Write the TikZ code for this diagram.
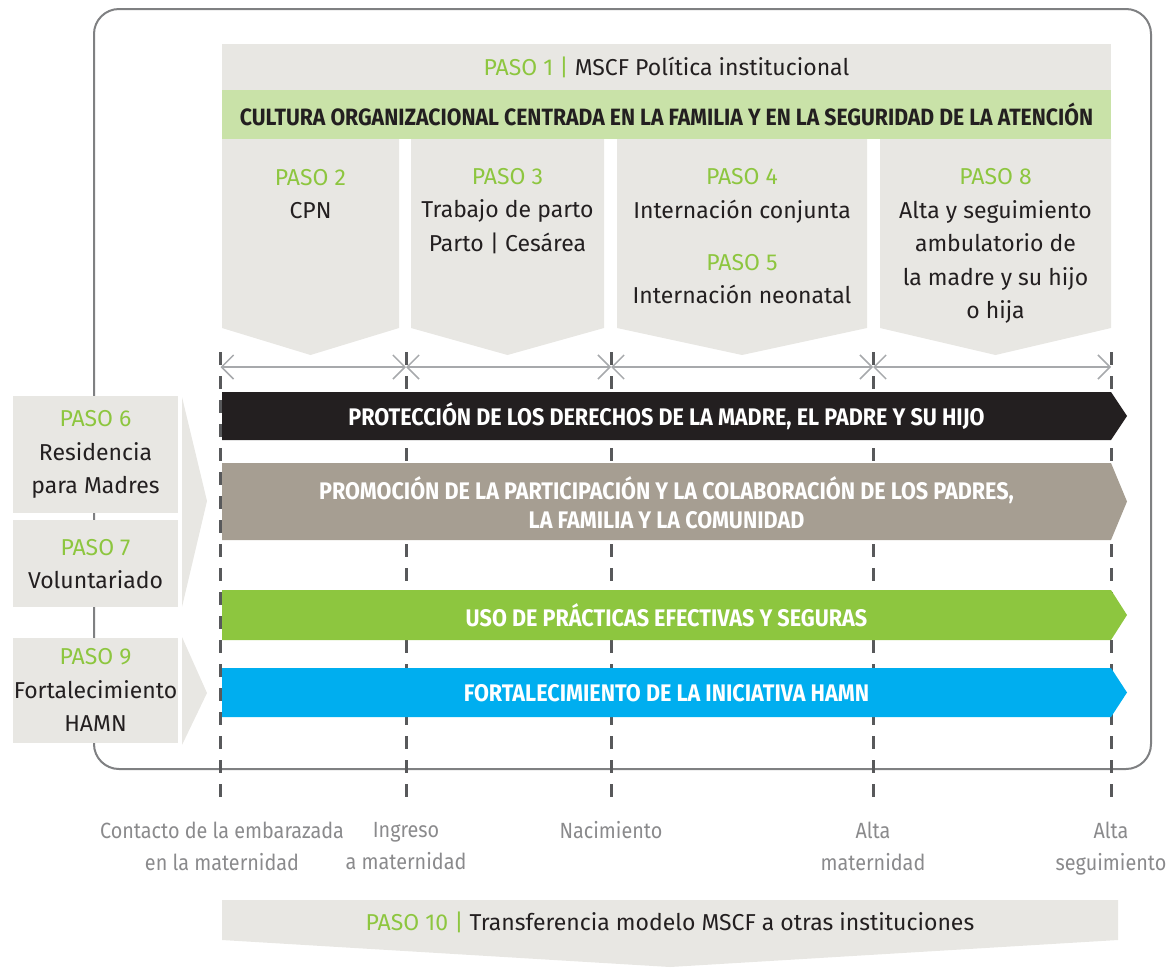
\documentclass[tikz,border=0pt]{standalone}
\usepackage{fontspec}
\setmainfont{Fira Sans}
\newfontfamily\narrowfont{Fira Sans}[FakeStretch=0.9]
\usetikzlibrary{arrows.meta,positioning}

\definecolor{pasogreen}{HTML}{8DC63F}
\definecolor{panel}{HTML}{E8E7E3}
\definecolor{culture}{HTML}{C9E2A8}
\definecolor{inkdark}{HTML}{231F20}
\definecolor{rights}{HTML}{231F20}
\definecolor{promo}{HTML}{A69E92}
\definecolor{practice}{HTML}{8DC63F}
\definecolor{hamn}{HTML}{00AEEF}
\definecolor{framegray}{HTML}{7F8082}
\definecolor{milestone}{HTML}{58595B}
\definecolor{spangray}{HTML}{A7A9AC}
\definecolor{caption}{HTML}{8A8A8C}

\newcommand{\paso}[1]{\textcolor{pasogreen}{PASO #1}}
\newcommand{\stepfont}{\fontsize{23}{33.5}\selectfont}

\begin{document}
\begin{tikzpicture}[%
	x=1pt,y=-1pt,>={Straight Barb[length=12pt,width=24pt]},
	every node/.style={inner sep=0pt,text=inkdark},
	headband/.style={fill=panel,minimum width=889pt,minimum height=46pt,font=\stepfont},
	cultureband/.style={fill=culture,minimum width=889pt,minimum height=49pt,
		font=\narrowfont\bfseries\fontsize{23.6}{27}\selectfont},
	steptext/.style={align=center,font=\stepfont},
	sidebox/.style={fill=panel,minimum width=165pt,align=center,font=\stepfont},
	bartext/.style={align=center,text=white,font=\narrowfont\bfseries\fontsize{24}{29}\selectfont},
	milestonetext/.style={align=center,text=caption,font=\narrowfont\fontsize{22}{32}\selectfont},
	frame line/.style={draw=framegray,line width=2pt,rounded corners=25pt},
	tick line/.style={draw=milestone,line width=3pt,dash pattern=on 13pt off 11pt},
	span line/.style={draw=spangray,line width=1.5pt,<->}]

	\useasboundingbox (0,0) rectangle (1175,967);

	% outer frame
	\draw[frame line] (94,9) rectangle (1151,769);

	% paso 1 and culture band
	\node[headband] (paso1) at (666.5,67)
		{\textcolor{pasogreen}{PASO 1 |} MSCF Política institucional};
	\node[cultureband,below=0pt of paso1] (cultura)
		{CULTURA ORGANIZACIONAL CENTRADA EN LA FAMILIA Y EN LA SEGURIDAD DE LA ATENCIÓN};

	% columns
	\fill[panel] (222,139) -- (399,139) -- (399,328) -- (310.5,355) -- (222,328) -- cycle;
	\fill[panel] (411,139) -- (604,139) -- (604,328) -- (507.5,355) -- (411,328) -- cycle;
	\fill[panel] (617,139) -- (867,139) -- (867,328) -- (742,355) -- (617,328) -- cycle;
	\fill[panel] (880,139) -- (1111,139) -- (1111,328) -- (995.5,355) -- (880,328) -- cycle;

	\node[steptext] (paso2) at (310.5,194) {\paso{2}\\CPN};
	\node[steptext] (paso3) at (507.5,211) {\paso{3}\\Trabajo de parto\\Parto | Cesárea};
	\node[steptext] (paso4) at (742,196) {\paso{4}\\Internación conjunta};
	\node[steptext] (paso5) at (742,279) {\paso{5}\\Internación neonatal};
	\node[steptext] (paso8) at (995.5,246)
		{\paso{8}\\Alta y seguimiento\\ambulatorio de\\la madre y su hijo\\o hija};

	% milestones
	\coordinate (contacto)   at (220.5,367);
	\coordinate (ingreso)    at (406,367);
	\coordinate (nacimiento) at (611,367);
	\coordinate (altamat)    at (873,367);
	\coordinate (altaseg)    at (1111,367);

	\coordinate (contacto top)   at (220.5,352);
	\coordinate (ingreso top)    at (406,352);
	\coordinate (nacimiento top) at (611,352);
	\coordinate (altamat top)    at (873,352);
	\coordinate (altaseg top)    at (1111,352);

	\coordinate (contacto foot)   at (220.5,800);
	\coordinate (ingreso foot)    at (406,800);
	\coordinate (nacimiento foot) at (611,800);
	\coordinate (altamat foot)    at (873,800);
	\coordinate (altaseg foot)    at (1111,800);

	\path[tick line] (contacto top) -- (contacto foot);
	\path[tick line] (ingreso top) -- (ingreso foot);
	\path[tick line] (nacimiento top) -- (nacimiento foot);
	\path[tick line] (altamat top) -- (altamat foot);
	\path[tick line] (altaseg top) -- (altaseg foot);

	\path[span line] (contacto) -- (ingreso);
	\path[span line] (ingreso) -- (nacimiento);
	\path[span line] (nacimiento) -- (altamat);
	\path[span line] (altamat) -- (altaseg);

	% bars
	\fill[rights]   (222,392) -- (1111,392) -- (1127,416)   -- (1111,440) -- (222,440) -- cycle;
	\fill[promo]    (222,463) -- (1111,463) -- (1127,501.5) -- (1111,540) -- (222,540) -- cycle;
	\fill[practice] (222,590) -- (1111,590) -- (1127,615)   -- (1111,640) -- (222,640) -- cycle;
	\fill[hamn]     (222,668) -- (1111,668) -- (1127,692.5) -- (1111,717) -- (222,717) -- cycle;

	\node[bartext] (derechos) at (666.5,416)
		{PROTECCIÓN DE LOS DERECHOS DE LA MADRE, EL PADRE Y SU HIJO};
	\node[bartext] (promocion) at (666.5,503)
		{PROMOCIÓN DE LA PARTICIPACIÓN Y LA COLABORACIÓN DE LOS PADRES,\\LA FAMILIA Y LA COMUNIDAD};
	\node[bartext] (practicas) at (666.5,615) {USO DE PRÁCTICAS EFECTIVAS Y SEGURAS};
	\node[bartext] (iniciativa) at (666.5,693) {FORTALECIMIENTO DE LA INICIATIVA HAMN};

	% side steps
	\node[sidebox,minimum height=117pt] (paso6) at (95.5,454.5)
		{\paso{6}\\Residencia\\para Madres};
	\node[sidebox,minimum height=87pt,below=7pt of paso6] (paso7)
		{\paso{7}\\Voluntariado};
	\node[sidebox,minimum height=105pt,below=30pt of paso7] (paso9)
		{\paso{9}\\Fortalecimiento\\HAMN};

	\fill[panel] (182,397) -- (207,501) -- (182,607) -- cycle;
	\fill[panel] (182,637) -- (207,693) -- (182,745) -- cycle;

	% milestone labels
	\node[milestonetext] (lbl contacto) at (222,846) {Contacto de la embarazada\\en la maternidad};
	\node[milestonetext] (lbl ingreso) at (406,846) {Ingreso\\a maternidad};
	\node[milestonetext] (lbl nacimiento) at (611,830) {Nacimiento};
	\node[milestonetext] (lbl altamat) at (873,846) {Alta\\maternidad};
	\node[milestonetext] (lbl altaseg) at (1111,848.5) {Alta\\seguimiento};

	% paso 10
	\fill[panel] (222,900) -- (1118,900) -- (1118,940) -- (670,967) -- (222,940) -- cycle;
	\node[font=\stepfont] (paso10) at (670,922)
		{\textcolor{pasogreen}{PASO 10 |} Transferencia modelo MSCF a otras instituciones};

\end{tikzpicture}
\end{document}
